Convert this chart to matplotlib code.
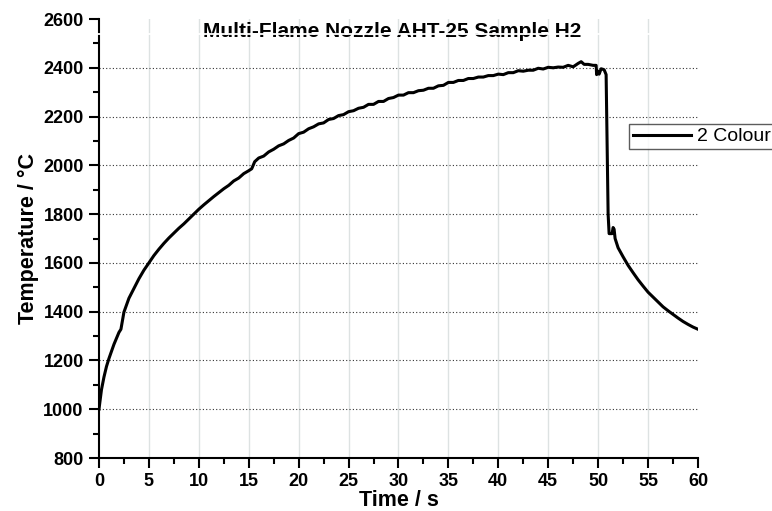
import numpy as np
import matplotlib.pyplot as plt
from matplotlib.ticker import MultipleLocator

plt.rcParams["font.family"] = ["Liberation Sans", "DejaVu Sans"]

# Time (s) and 2-colour pyrometer temperature (deg C)
time_s = [
    0.0, 0.25, 0.5, 0.75, 1.0, 1.5, 2.0, 2.2, 2.5, 3.0,
    3.5, 4.0, 4.5, 5.0, 5.5, 6.0, 6.5, 7.0, 7.5, 8.0,
    8.5, 9.0, 9.5, 10.0, 10.5, 11.0, 11.5, 12.0, 12.5, 13.0,
    13.5, 14.0, 14.5, 15.0, 15.3, 15.6, 16.0, 16.5, 17.0, 17.5,
    18.0, 18.5, 19.0, 19.5, 20.0, 20.5, 21.0, 21.5, 22.0, 22.5,
    23.0, 23.5, 24.0, 24.5, 25.0, 25.5, 26.0, 26.5, 27.0, 27.5,
    28.0, 28.5, 29.0, 29.5, 30.0, 30.5, 31.0, 31.5, 32.0, 32.5,
    33.0, 33.5, 34.0, 34.5, 35.0, 35.5, 36.0, 36.5, 37.0, 37.5,
    38.0, 38.5, 39.0, 39.5, 40.0, 40.5, 41.0, 41.5, 42.0, 42.5,
    43.0, 43.5, 44.0, 44.5, 45.0, 45.5, 46.0, 46.5, 47.0, 47.5,
    48.0, 48.3, 48.6, 49.0, 49.5, 49.8, 49.85, 50.0, 50.1, 50.3,
    50.6, 50.8, 50.9, 51.0, 51.1, 51.4, 51.5, 51.6, 51.7, 52.0,
    52.5, 53.0, 53.5, 54.0, 54.5, 55.0, 55.5, 56.0, 56.5, 57.0,
    57.5, 58.0, 58.5, 59.0, 59.5, 60.0,
]
temp_c = [
    1000, 1080, 1132, 1175, 1208, 1266, 1315, 1328, 1398, 1455,
    1495, 1535, 1570, 1600, 1630, 1656, 1680, 1702, 1722, 1742,
    1760, 1780, 1800, 1820, 1838, 1855, 1872, 1888, 1904, 1918,
    1936, 1948, 1966, 1978, 1986, 2015, 2030, 2038, 2055, 2066,
    2080, 2088, 2102, 2112, 2130, 2136, 2150, 2158, 2170, 2174,
    2188, 2192, 2204, 2208, 2220, 2224, 2234, 2238, 2250, 2250,
    2262, 2262, 2274, 2278, 2288, 2288, 2298, 2298, 2306, 2308,
    2316, 2316, 2326, 2328, 2340, 2340, 2348, 2348, 2356, 2356,
    2362, 2362, 2368, 2368, 2374, 2372, 2380, 2380, 2388, 2386,
    2390, 2390, 2398, 2395, 2402, 2400, 2403, 2402, 2410, 2404,
    2418, 2425, 2414, 2414, 2410, 2410, 2372, 2386, 2374, 2396,
    2392, 2372, 2100, 1800, 1720, 1720, 1745, 1738, 1700, 1662,
    1625, 1590, 1560, 1531, 1505, 1480, 1460, 1440, 1420, 1404,
    1389, 1374, 1360, 1348, 1337, 1328,
]
x_ticks = list(range(0, 61, 5))
y_ticks = list(range(800, 2601, 200))

fig = plt.figure(figsize=(7.72, 5.11), dpi=100)
ax = fig.add_axes([0.1282, 0.1037, 0.7759, 0.8591])

ax.plot(time_s, temp_c, color='black', lw=2.2, label='2 Colour', zorder=3)

ax.set_xlim(0, 60)
ax.set_ylim(800, 2600)
ax.set_xticks(x_ticks)
ax.set_yticks(y_ticks)
ax.xaxis.set_minor_locator(MultipleLocator(2.5))
ax.yaxis.set_minor_locator(MultipleLocator(100))

for side in ['top', 'right']:
    ax.spines[side].set_visible(False)
for side in ['left', 'bottom']:
    ax.spines[side].set_linewidth(1.5)

ax.tick_params(which='major', direction='out', length=7, width=1.5,
               labelsize=13, pad=4)
ax.tick_params(which='minor', direction='out', length=4, width=1.5)
for lab in ax.get_xticklabels() + ax.get_yticklabels():
    lab.set_fontweight('bold')

# grid: light solid verticals, dotted horizontals (inner ticks only)
for xv in x_ticks[1:-1]:
    ax.axvline(xv, color='#dde2e2', lw=1.0, zorder=0)
for yv in y_ticks[1:-1]:
    ax.axhline(yv, color='#333333', lw=0.8, ls=(0, (1, 2)), zorder=0)

ax.set_xlabel('Time / s', fontsize=15.5, fontweight='bold', labelpad=0)
ax.set_ylabel('Temperature / °C', fontsize=15.5, fontweight='bold', labelpad=3)
ax.set_title('Multi-Flame Nozzle AHT-25 Sample H2', fontsize=15,
             fontweight='bold', y=0.941, x=0.49)

# thin white strip that cuts across the bottom of the title and the spine
ax.plot([-0.01, 0.92], [0.966, 0.966], color='white', lw=1.3,
        transform=ax.transAxes, clip_on=False, zorder=6)

leg = ax.legend(loc='upper left', bbox_to_anchor=(629 / 772, 1 - 124 / 511),
                bbox_transform=fig.transFigure, fontsize=14, frameon=True,
                fancybox=False, handlelength=3.0, handletextpad=0.3,
                borderpad=0.2, borderaxespad=0)
leg.get_frame().set_edgecolor('#333333')
leg.get_frame().set_linewidth(1.0)

fig.savefig('out.png', dpi=100)
